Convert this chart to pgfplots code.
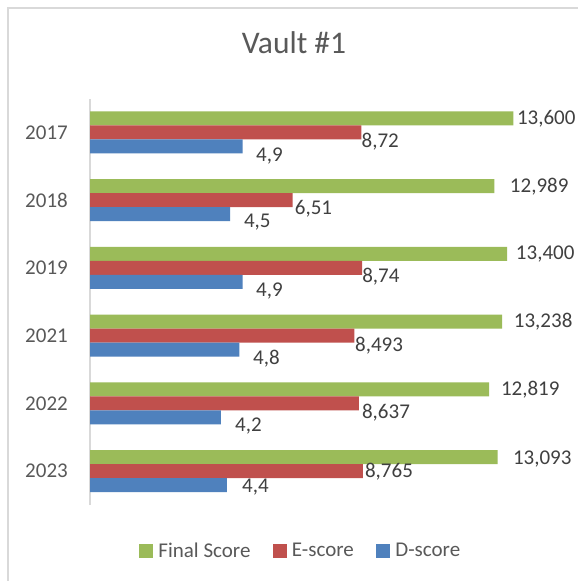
\documentclass[border=0pt]{standalone}
\usepackage{fontspec}
\setmainfont{Carlito}
\usepackage{pgfplots}
\usepackage{pgfplotstable}
\pgfplotsset{compat=1.18}
\definecolor{cgreen}{HTML}{9BBB59}
\definecolor{cred}{HTML}{C0504D}
\definecolor{cblue}{HTML}{4F81BD}
\definecolor{ctext}{HTML}{595959}
\definecolor{clbl}{HTML}{404040}
\definecolor{cgrid}{HTML}{D9D9D9}

\pgfplotstableread{
y val lab dx dy
5 13.600 13,600 3.4 0
4 12.989 12,989 15.4 0
3 13.400 13,400 8.6 0
2 13.238 13,238 11.6 0
1 12.819 12,819 11.7 0
0 13.093 13,093 15.2 2
}\finaltab
\pgfplotstableread{
y val lab dx dy
5 8.72 8,72 0 9.5
4 6.51 6,51 2 9
3 8.74 8,74 0 9
2 8.493 8,493 0.5 9.5
1 8.637 8,637 3 9
0 8.765 8,765 2 1
}\etab
\pgfplotstableread{
y val lab dx dy
5 4.9 4,9 13.4 9.5
4 4.5 4,5 13.8 8
3 4.9 4,9 13.4 9
2 4.8 4,8 13.5 8.5
1 4.2 4,2 14.2 8.7
0 4.4 4,4 15 2
}\dtab

\newcommand{\lblfont}{\fontsize{21bp}{25bp}\selectfont}
\def\lbldx{0}
\def\lbldy{0}

\begin{document}
\begin{tikzpicture}
\path[use as bounding box] (0,0) rectangle (578bp,-581bp);
\fill[white] (0,0) rectangle (578bp,-581bp);
\draw[cgrid, line width=1.5bp] (8bp,-581bp) -- (8bp,-8bp) -- (578bp,-8bp);
\begin{axis}[
  at={(90bp,-505bp)}, anchor=south west,
  scale only axis, width=467bp, height=406.4bp,
  xmin=0, xmax=15, ymin=-0.5, ymax=5.5,
  axis x line=none,
  axis y line=left,
  y axis line style={-, draw=cgrid, line width=1.5bp},
  ytick={0,1,2,3,4,5},
  yticklabels={2023,2022,2021,2019,2018,2017},
  major tick length=0pt,
  yticklabel style={font=\lblfont, text=ctext, inner sep=0pt, xshift=-22bp},
  clip=false,
  xbar, bar width=14bp,
  title={Vault \#1},
  title style={at={(0.4368,1.0974)}, anchor=base, font=\fontsize{31.5bp}{36bp}\selectfont, text=ctext},
  legend columns=3,
  legend style={at={(0.452,-0.113)}, anchor=center, draw=none, fill=none,
    font=\lblfont, text=ctext,
    nodes={inner sep=2.5bp},
    /tikz/every odd column/.append style={column sep=2.5bp},
    /tikz/every even column/.append style={column sep=20bp}},
  legend image code/.code={\fill[#1] (0bp,-7bp) rectangle (14bp,7bp);},
  lbl/.style={
    point meta=explicit symbolic,
    nodes near coords,
    visualization depends on={\thisrow{dx} \as \lbldx},
    visualization depends on={\thisrow{dy} \as \lbldy},
    nodes near coords style={anchor=west, inner sep=0pt, xshift=\lbldx*1bp, yshift=-\lbldy*1bp, font=\lblfont, text=clbl},
  },
]
\addplot[fill=cgreen, draw=none, bar shift=14bp, lbl] table[x=val, y=y, meta=lab] {\finaltab};
\addlegendentry{Final Score}
\addplot[fill=cred, draw=none, bar shift=0bp, lbl] table[x=val, y=y, meta=lab] {\etab};
\addlegendentry{E-score}
\addplot[fill=cblue, draw=none, bar shift=-14bp, lbl] table[x=val, y=y, meta=lab] {\dtab};
\addlegendentry{D-score}
\end{axis}
\end{tikzpicture}
\end{document}
